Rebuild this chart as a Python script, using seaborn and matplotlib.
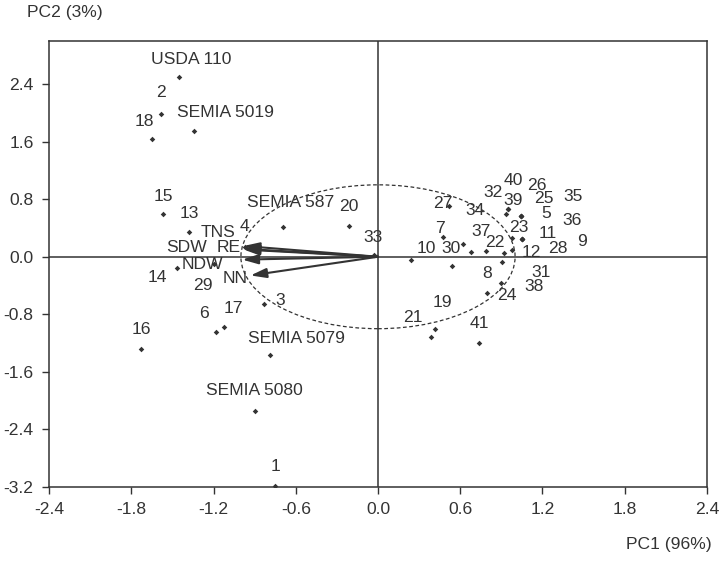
import pandas as pd
import matplotlib.pyplot as plt
import seaborn as sns
from matplotlib.patches import Ellipse

# strain scores on PC1 / PC2
strains = ['USDA 110', '2', 'SEMIA 5019', '18', '15', '13', '4', 'SEMIA 587', '20', '33',
           '14', '29', '6', '17', '3', '16', 'SEMIA 5079', 'SEMIA 5080', '1',
           '27', '7', '10', '30', '37', '22', '8', '34', '32', '39', '40', '26', '25',
           '35', '5', '36', '23', '11', '9', '28', '12', '31', '38', '24', '19', '21', '41']
pc1 = [-1.45, -1.58, -1.34, -1.65, -1.57, -1.38, -0.97, -0.695, -0.21, -0.03,
       -1.47, -1.20, -1.18, -1.12, -0.83, -1.73, -0.79, -0.90, -0.75,
       0.52, 0.474, 0.24, 0.62, 0.68, 0.79, 0.54, 0.934, 0.946, 1.04, 0.946, 1.04, 1.04,
       1.05, 1.04, 1.05, 0.98, 1.05, 1.05, 0.92, 0.975, 0.905, 0.895, 0.795, 0.415, 0.385, 0.737]
pc2 = [2.50, 1.99, 1.75, 1.64, 0.59, 0.34, 0.13, 0.41, 0.43, 0.02,
       -0.16, -0.10, -1.05, -0.97, -0.66, -1.28, -1.36, -2.14, -3.19,
       0.71, 0.27, -0.05, 0.18, 0.07, 0.08, -0.13, 0.60, 0.66, 0.57, 0.66, 0.57, 0.57,
       0.24, 0.57, 0.24, 0.26, 0.24, 0.24, 0.05, 0.09, -0.07, -0.37, -0.51, -1.01, -1.12, -1.20]
# where each label was written (data units)
lab_x = [-1.364, -1.583, -1.116, -1.707, -1.568, -1.379, -0.977, -0.635, -0.212, -0.036,
         -1.612, -1.276, -1.269, -1.058, -0.715, -1.724, -0.598, -0.904, -0.746,
         0.474, 0.452, 0.35, 0.53, 0.75, 0.85, 0.795, 0.71, 0.84, 0.985, 0.985, 1.16, 1.21,
         1.42, 1.23, 1.415, 1.03, 1.24, 1.49, 1.31, 1.12, 1.19, 1.14, 0.94, 0.467, 0.255, 0.737]
lab_y = [2.74, 2.28, 2.00, 1.88, 0.84, 0.60, 0.42, 0.75, 0.70, 0.27,
         -0.29, -0.40, -0.79, -0.72, -0.61, -1.01, -1.13, -1.86, -2.91,
         0.74, 0.39, 0.11, 0.11, 0.35, 0.20, -0.23, 0.64, 0.89, 0.78, 1.06, 0.99, 0.81,
         0.84, 0.60, 0.50, 0.41, 0.32, 0.21, 0.12, 0.06, -0.22, -0.41, -0.54, -0.63, -0.84, -0.93]

# variable loadings (arrows)
variables = ['TNS', 'SDW', 'RE', 'NDW', 'NN']
load1 = [-0.98, -0.98, -0.98, -0.99, -0.93]
load2 = [0.15, 0.11, 0.10, -0.04, -0.26]
var_x = [-1.167, -1.40, -1.09, -1.284, -1.043]
var_y = [0.34, 0.13, 0.13, -0.11, -0.30]

df = pd.DataFrame({'strain': strains, 'PC1': pc1, 'PC2': pc2})

sns.set_style('ticks')
plt.rcParams['font.family'] = ['Liberation Sans', 'DejaVu Sans']
ink = '#333333'
fs = 12.6

fig = plt.figure(figsize=(7.22, 5.61), dpi=100)
ax = fig.add_axes([0.0679, 0.132, 0.9113, 0.795])

ax.axhline(0, color=ink, lw=1.1, zorder=1)
ax.axvline(0, color=ink, lw=1.1, zorder=1)
ax.add_patch(Ellipse((0, 0), 2, 2, fill=False, ls=(0, (3, 2)), lw=0.9, color=ink))

sns.scatterplot(data=df, x='PC1', y='PC2', marker='D', s=8, color=ink,
                edgecolor=ink, linewidth=0, ax=ax, zorder=3)

for name, x, y in zip(strains, lab_x, lab_y):
    ax.text(x, y, name, ha='center', va='center', fontsize=fs, color=ink)

for name, dx, dy, tx, ty in zip(variables, load1, load2, var_x, var_y):
    ax.annotate('', xy=(dx, dy), xytext=(0, 0),
                arrowprops=dict(arrowstyle='-|>,head_width=0.29,head_length=0.95',
                                lw=1.5, mutation_scale=10,
                                color=ink, shrinkA=0, shrinkB=0))
    ax.text(tx, ty, name, ha='center', va='center', fontsize=fs, color=ink)

ax.set_xlim(-2.4, 2.4)
ax.set_ylim(-3.2, 3.0)
ax.set_xticks([-2.4, -1.8, -1.2, -0.6, 0.0, 0.6, 1.2, 1.8, 2.4])
ax.set_yticks([-3.2, -2.4, -1.6, -0.8, 0.0, 0.8, 1.6, 2.4])
ax.xaxis.set_major_formatter(plt.FormatStrFormatter('%.1f'))
ax.yaxis.set_major_formatter(plt.FormatStrFormatter('%.1f'))
ax.tick_params(direction='out', length=5, width=1, colors=ink, labelsize=fs, pad=6)
for sp in ax.spines.values():
    sp.set_visible(True)
    sp.set_color(ink)
    sp.set_linewidth(1.1)
ax.set_xlabel('')
ax.set_ylabel('')

fig.text(27 / 722, 1 - 12 / 561, 'PC2 (3%)', ha='left', va='center', fontsize=fs, color=ink)
fig.text(712 / 722, 1 - 545 / 561, 'PC1 (96%)', ha='right', va='center', fontsize=fs, color=ink)

fig.savefig('out.png', dpi=100)
